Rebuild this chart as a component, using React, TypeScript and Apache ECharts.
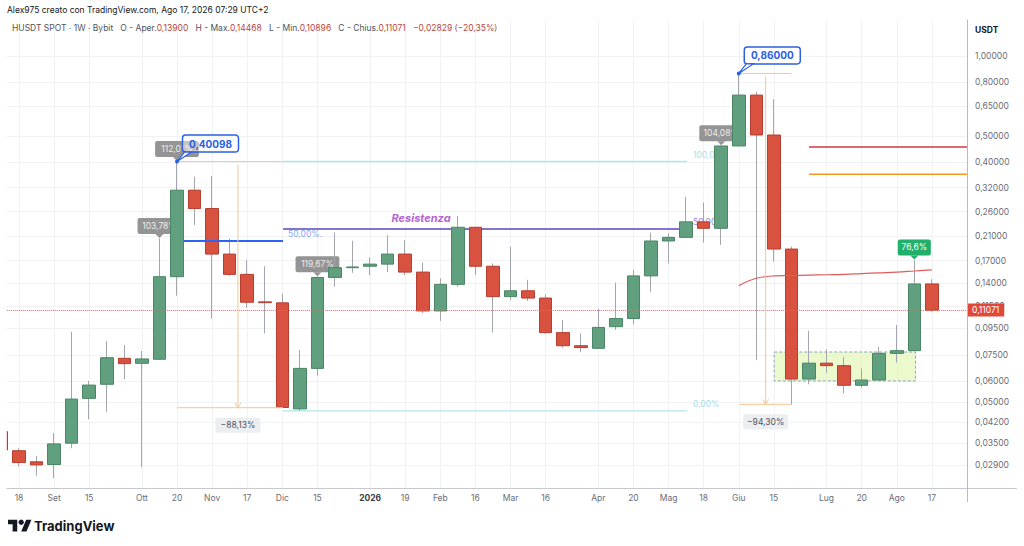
import React, { useEffect, useRef } from 'react';
import * as echarts from 'echarts';

const FONT = 'Inter, "Noto Sans", "DejaVu Sans", sans-serif';

// Weekly candles: index 0 = week of 11 Aug 2025 ... index 53 = week of 17 Aug 2026
const opens = [
  0.0387, 0.0328, 0.0298, 0.0291, 0.035, 0.0516, 0.0583, 0.073, 0.0699, 0.0724,
  0.148, 0.313, 0.267, 0.18, 0.151, 0.119, 0.118, 0.0471, 0.0669, 0.147,
  0.16, 0.162, 0.165, 0.18, 0.154, 0.11, 0.1385, 0.227, 0.162, 0.1245,
  0.131, 0.123, 0.0912, 0.0814, 0.0796, 0.096, 0.103, 0.149, 0.2016, 0.208,
  0.238, 0.225, 0.459, 0.713, 0.5046, 0.188, 0.061, 0.07, 0.0685, 0.0578,
  0.0605, 0.0762, 0.078, 0.139,
];
const highs = [
  0.04, 0.0336, 0.0313, 0.0382, 0.0919, 0.0601, 0.0848, 0.0819, 0.0778, 0.206,
  0.40098, 0.352, 0.354, 0.206, 0.171, 0.162, 0.128, 0.0785, 0.148, 0.217,
  0.202, 0.175, 0.212, 0.203, 0.167, 0.146, 0.25, 0.228, 0.166, 0.192,
  0.144, 0.127, 0.1017, 0.0906, 0.112, 0.1405, 0.157, 0.2166, 0.2155, 0.296,
  0.281, 0.46, 0.86, 0.734, 0.687, 0.192, 0.0925, 0.0789, 0.074, 0.0669,
  0.0807, 0.0974, 0.171, 0.14468,
];
const lows = [
  0.0325, 0.0286, 0.0264, 0.0259, 0.0335, 0.043, 0.046, 0.0609, 0.0284, 0.072,
  0.1255, 0.2315, 0.103, 0.149, 0.113, 0.0906, 0.0476, 0.0464, 0.0628, 0.1357,
  0.153, 0.15, 0.154, 0.15, 0.108, 0.101, 0.1357, 0.15, 0.0912, 0.121,
  0.12, 0.09, 0.08, 0.0769, 0.0795, 0.0933, 0.098, 0.13, 0.166, 0.207,
  0.199, 0.195, 0.459, 0.0719, 0.1685, 0.049, 0.0583, 0.0644, 0.0539, 0.0566,
  0.0603, 0.0703, 0.0775, 0.10896,
];
const closes = [
  0.033, 0.0296, 0.029, 0.0348, 0.0513, 0.0579, 0.0734, 0.0697, 0.0726, 0.148,
  0.313, 0.267, 0.18, 0.151, 0.1186, 0.1182, 0.0477, 0.0669, 0.147, 0.16,
  0.161, 0.165, 0.18, 0.154, 0.11, 0.1385, 0.227, 0.162, 0.1245, 0.131,
  0.123, 0.0912, 0.0814, 0.0801, 0.0954, 0.103, 0.149, 0.2016, 0.208, 0.238,
  0.225, 0.459, 0.713, 0.5046, 0.188, 0.061, 0.07, 0.0685, 0.0578, 0.0605,
  0.0762, 0.078, 0.139, 0.11071,
];

// time axis labels (week index -> text)
const xTickIdx = [1, 3, 5, 8, 10, 12, 14, 16, 18, 21, 23, 25, 27, 29, 31, 34, 36, 38, 40, 42, 44, 47, 49, 51, 53];
const xTickLabels = ['18', 'Set', '15', 'Ott', '20', 'Nov', '17', 'Dic', '15', '2026', '19', 'Feb', '16', 'Mar', '16', 'Apr', '20', 'Mag', '18', 'Giu', '15', 'Lug', '20', 'Ago', '17'];

// price scale labels
const yTickValues = [1, 0.8, 0.65, 0.5, 0.4, 0.32, 0.26, 0.21, 0.17, 0.14, 0.115, 0.095, 0.075, 0.06, 0.05, 0.042, 0.035, 0.029];

// visible range
const X_MIN = 0.305;
const X_MAX = 55;
const P_MIN = 0.02375;
const P_MAX = 1.366;

// anchored average line
const maIdx = [42, 43, 44, 45, 46, 47, 48, 49, 50, 51, 52, 53];
const maVals = [0.137, 0.146, 0.149, 0.1495, 0.15, 0.1505, 0.151, 0.152, 0.153, 0.154, 0.1555, 0.157];

const lastPrice = 0.11071;

// drawings (week index, price, text)
const priceCallouts = [
  { i: 10, p: 0.40098, text: '0,40098' },
  { i: 42, p: 0.86, text: '0,86000' },
];
const grayTags = [
  { i: 9, p: 0.206, text: '103,78%' },
  { i: 10, p: 0.40098, text: '112,01%' },
  { i: 18, p: 0.148, text: '119,67%' },
  { i: 41, p: 0.46, text: '104,08%' },
];
const greenTags = [{ i: 52, p: 0.171, text: '76,6%' }];
const measures = [
  { i0: 10, i1: 16.04, iv: 13.47, pTop: 0.40098, pBot: 0.0476, text: '−88,13%' },
  { i0: 42.06, i1: 45.0, iv: 43.53, pTop: 0.86, pBot: 0.049, text: '−94,30%' },
];
const fibStart = 16.04;
const fibEnd = 39.05;
const fibLevels = [
  { p: 0.401, text: '100,00%', kind: 'edge' },
  { p: 0.2237, text: '50,00%', kind: 'mid' },
  { p: 0.0463, text: '0,00%', kind: 'edge' },
];
const supportLine = { i0: 10.4, i1: 16.04, p: 0.2016 };
const resistLabel = { i: 23.9, p: 0.2237, text: 'Resistenza' };
const targetLines = [
  { i0: 46.0, i1: 55, p: 0.455, kind: 'red' },
  { i0: 46.0, i1: 55, p: 0.359, kind: 'orange' },
];
const accumBox = { i0: 44.02, i1: 52.07, pTop: 0.0771, pBot: 0.06 };

echarts.graphic.registerShape(
  'tvlogo',
  echarts.graphic.extendPath('M14 22H7V11H0V4h14v18zM28 22h-8l7.5-18h8L28 22z', {}) as any
);

export default function App() {
  const ref = useRef<HTMLDivElement>(null);

  useEffect(() => {
    const el = ref.current as HTMLDivElement;
    const chart = echarts.init(el, null, { renderer: 'svg' });
    const L = Math.log;

    const wickData = opens.map((o, i) => [i, L(o), L(closes[i]), L(lows[i]), L(highs[i])]);
    const bodyData = opens.map((o, i) => [
      i,
      L(o),
      L(closes[i]),
      L(Math.min(o, closes[i])),
      L(Math.max(o, closes[i])),
    ]);
    const maData = maIdx.map((i, k) => [i, L(maVals[k])]);
    const fmtPrice = (v: number) => Math.exp(v).toFixed(5).replace('.', ',');
    const xLabel = (v: number) => {
      const k = xTickIdx.indexOf(Math.round(v));
      if (k < 0) return '';
      const t = xTickLabels[k];
      return t === '2026' ? '{b|2026}' : t;
    };

    const GRAY_AXIS = '#6a6d78';
    const GRID_LINE = '#f0f2f6';
    const GRID_LEFT = 6.8;
    const GRID_TOP = 20;
    const GRID_BOTTOM = 58;

    chart.setOption({
      animation: false,
      backgroundColor: '#ffffff',
      grid: { left: GRID_LEFT, right: 57, top: GRID_TOP, bottom: GRID_BOTTOM, containLabel: false, outerBoundsMode: 'none' },
      xAxis: {
        type: 'value',
        min: X_MIN,
        max: X_MAX,
        axisLine: { show: true, onZero: false, lineStyle: { color: '#c7c9cf', width: 1 } },
        axisTick: { show: false, customValues: xTickIdx },
        axisLabel: {
          customValues: xTickIdx,
          formatter: xLabel,
          color: GRAY_AXIS,
          fontSize: 8.5,
          fontFamily: FONT,
          margin: 5,
          rich: { b: { fontWeight: 'bold', color: '#3a3d46', fontSize: 8.5, fontFamily: FONT } },
        },
        splitLine: { show: true, lineStyle: { color: GRID_LINE, width: 1 } },
      },
      yAxis: {
        type: 'value',
        position: 'right',
        min: L(P_MIN),
        max: L(P_MAX),
        axisLine: { show: true, onZero: false, lineStyle: { color: '#b8bac1', width: 1 } },
        axisTick: { show: false, customValues: yTickValues.map(L) },
        axisLabel: {
          customValues: yTickValues.map(L),
          formatter: fmtPrice,
          color: GRAY_AXIS,
          fontSize: 8.5,
          fontFamily: FONT,
          margin: 8,
        },
        splitLine: { show: true, lineStyle: { color: GRID_LINE, width: 1 } },
      },
      series: [
        {
          type: 'candlestick',
          name: 'wick',
          data: wickData,
          barWidth: 1,
          clip: true,
          z: 2,
          itemStyle: {
            color: '#a3a6ad',
            color0: '#a3a6ad',
            borderColor: '#a3a6ad',
            borderColor0: '#a3a6ad',
            borderWidth: 1,
          },
        },
        {
          type: 'candlestick',
          name: 'body',
          data: bodyData,
          barWidth: 13,
          clip: true,
          z: 3,
          itemStyle: {
            color: '#60a07e',
            color0: '#d9513f',
            borderColor: '#4b8565',
            borderColor0: '#b53f30',
            borderWidth: 1,
          },
          markLine: {
            silent: true,
            symbol: 'none',
            data: [{ yAxis: L(lastPrice) }],
            lineStyle: { type: 'dotted', color: '#e8675a', width: 1 },
            label: {
              show: true,
              position: 'end',
              formatter: lastPrice.toFixed(5).replace('.', ','),
              color: '#ffffff',
              backgroundColor: '#e0483a',
              padding: [2, 5, 2, 4],
              fontSize: 8.5,
              fontFamily: FONT,
              distance: 1,
            },
          },
        },
        {
          type: 'line',
          name: 'avg',
          data: maData,
          smooth: 0.4,
          symbol: 'none',
          z: 4,
          lineStyle: { color: '#e25b5b', width: 1.2 },
        },
      ],
    });

    const px = (i: number, p: number) =>
      chart.convertToPixel({ gridIndex: 0 } as any, [i, L(p)]) as number[];

    const g: any[] = [];
    const line = (x1: number, y1: number, x2: number, y2: number, stroke: string, lineWidth: number, z: number, dash?: number[]) =>
      g.push({
        type: 'line',
        z,
        shape: { x1, y1, x2, y2 },
        style: { stroke, lineWidth, lineDash: dash },
      });
    const txt = (x: number, y: number, text: string, style: any, z: number) =>
      g.push({ type: 'text', x, y, z, style: { text, fontFamily: FONT, ...style } });

    // mask the part of the first (partial) candle that lies left of the plot edge
    g.push({
      type: 'rect',
      z: 50,
      shape: { x: 0, y: GRID_TOP, width: GRID_LEFT, height: 546 - GRID_TOP - GRID_BOTTOM },
      style: { fill: '#ffffff' },
    });

    // header
    txt(7, 5, 'Alex975 creato con TradingView.com, Ago 17, 2026 07:29 UTC+2', { fontSize: 8.5, fill: '#131722' }, 60);
    g.push({
      type: 'text',
      x: 12,
      y: 23,
      z: 60,
      style: {
        text:
          '{g|HUSDT SPOT · 1W · Bybit   O - Aper.}{r|0,13900}{g|   H - Max.}{r|0,14468}{g|   L - Min.}{r|0,10896}{g|   C - Chius.}{r|0,11071}{r|   −0,02829 (−20,35%)}',
        rich: {
          g: { fill: '#50535e', fontSize: 8.5, fontFamily: FONT },
          r: { fill: '#b5473f', fontSize: 8.5, fontFamily: FONT },
        },
      },
    });
    txt(975, 25, 'USDT', { fontSize: 8.5, fill: '#131722', fontWeight: 'bold' }, 20);

    // axis line extensions in price-scale area
    line(967, 488.5, 1017, 488.5, '#c7c9cf', 1, 20);
    line(967.5, 488, 967.5, 502, '#b8bac1', 1, 20);

    // accumulation box
    {
      const a = px(accumBox.i0, accumBox.pTop);
      const b = px(accumBox.i1, accumBox.pBot);
      g.push({
        type: 'rect',
        z: 1,
        shape: { x: a[0], y: a[1], width: b[0] - a[0], height: b[1] - a[1] },
        style: { fill: 'rgba(226,246,178,0.65)', stroke: '#8aa2c8', lineWidth: 1, lineDash: [3, 2] },
      });
    }

    // fib levels
    fibLevels.forEach((f) => {
      const a = px(fibStart, f.p);
      const b = px(fibEnd, f.p);
      const mid = f.kind === 'mid';
      line(a[0], a[1], b[0], b[1], mid ? '#5a47bd' : '#b3e6ef', 1.4, 1);
      txt(b[0] + 6, b[1] - 2, f.text, {
        fontSize: 8.5,
        fill: mid ? '#9a86d3' : '#a6e0ea',
        verticalAlign: 'bottom',
      }, 1);
      if (mid) {
        txt(a[0] + 5, a[1] + 5, f.text + '.', { fontSize: 8.5, fill: '#86a8f2', verticalAlign: 'middle' }, 1);
      }
    });

    // resistance label
    {
      const p = px(resistLabel.i, resistLabel.p);
      txt(p[0], p[1] - 11, resistLabel.text, {
        fontSize: 11,
        fontWeight: 'bold',
        fontStyle: 'italic',
        fill: '#b464d2',
        align: 'center',
        verticalAlign: 'middle',
      }, 5);
    }

    // support line (blue)
    {
      const a = px(supportLine.i0, supportLine.p);
      const b = px(supportLine.i1, supportLine.p);
      line(a[0], a[1], b[0], b[1], '#2e62f0', 2, 5);
    }

    // target lines
    targetLines.forEach((t) => {
      const a = px(t.i0, t.p);
      const b = px(t.i1, t.p);
      line(a[0], a[1], b[0], b[1], t.kind === 'red' ? '#cf3a3f' : '#f39a1e', 1.5, 5);
    });

    // measures
    measures.forEach((m) => {
      const tl = px(m.i0, m.pTop);
      const tr = px(m.i1, m.pTop);
      const bl = px(m.i0, m.pBot);
      const br = px(m.i1, m.pBot);
      const vt = px(m.iv, m.pTop);
      const vb = px(m.iv, m.pBot);
      const c = '#f6c792';
      line(tl[0], tl[1], tr[0], tr[1], c, 1, 5);
      line(bl[0], bl[1], br[0], br[1], c, 1, 5);
      line(vt[0], vt[1] + 3, vb[0], vb[1], c, 1, 5);
      g.push({
        type: 'polyline',
        z: 5,
        shape: { points: [[vb[0] - 3, vb[1] - 5], [vb[0], vb[1]], [vb[0] + 3, vb[1] - 5]] },
        style: { stroke: c, lineWidth: 1, fill: 'none' },
      });
      const w = 45;
      g.push({
        type: 'rect',
        z: 5,
        shape: { x: vb[0] - w / 2, y: vb[1] + 10, width: w, height: 15, r: 2 },
        style: { fill: '#eceef1' },
      });
      txt(vb[0], vb[1] + 17.5, m.text, { fontSize: 8.5, fill: '#50535e', align: 'center', verticalAlign: 'middle' }, 6);
    });

    // percent tags (under candles)
    const tag = (t: { i: number; p: number; text: string }, fill: string, color: string, z: number) => {
      const p = px(t.i, t.p);
      const w = t.text.length * 5.4 + 6;
      const h = 16;
      const bottom = p[1] - 4.5;
      g.push({
        type: 'rect',
        z,
        shape: { x: p[0] - w / 2, y: bottom - h, width: w, height: h, r: 2 },
        style: { fill },
      });
      g.push({
        type: 'polygon',
        z,
        shape: { points: [[p[0] - 4, bottom], [p[0] + 4, bottom], [p[0], bottom + 4]] },
        style: { fill },
      });
      txt(p[0], bottom - h / 2, t.text, { fontSize: 8.5, fill: color, align: 'center', verticalAlign: 'middle' }, z);
    };
    grayTags.forEach((t) => tag(t, '#949494', '#ececec', 1));
    greenTags.forEach((t) => tag(t, '#20b06b', '#ffffff', 6));

    // price callouts (blue)
    priceCallouts.forEach((c) => {
      const p = px(c.i, c.p);
      const w = 56;
      const h = 17;
      const left = p[0] + 5.5;
      const bottom = p[1] - 9.5;
      g.push({
        type: 'rect',
        z: 10,
        shape: { x: left, y: bottom - h, width: w, height: h, r: 3 },
        style: { fill: 'rgba(255,255,255,0.45)', stroke: '#2d5fe3', lineWidth: 1.5 },
      });
      g.push({
        type: 'polygon',
        z: 10,
        shape: { points: [[left + 2, bottom], [p[0], p[1]], [left + 9, bottom]] },
        style: { fill: '#ffffff', stroke: '#2d5fe3', lineWidth: 1.2 },
      });
      g.push({ type: 'circle', z: 11, shape: { cx: p[0], cy: p[1], r: 2 }, style: { fill: '#2d5fe3' } });
      txt(left + w / 2, bottom - h / 2, c.text, {
        fontSize: 10,
        fontWeight: 'bold',
        fill: '#2d5fe3',
        align: 'center',
        verticalAlign: 'middle',
      }, 11);
    });

    // TradingView logo
    const s = 0.66;
    g.push({ type: 'tvlogo', x: 8, y: 517, scaleX: s, scaleY: s, z: 20, style: { fill: '#131722' } });
    g.push({ type: 'circle', z: 20, shape: { cx: 8 + 20 * s, cy: 517 + 8 * s, r: 4 * s }, style: { fill: '#131722' } });
    txt(34, 526, 'TradingView', { fontSize: 13, fontWeight: 'bold', fill: '#131722', verticalAlign: 'middle' }, 20);

    chart.setOption({ graphic: g });

    return () => {
      chart.dispose();
    };
  }, []);

  return (
    <div
      ref={ref}
      style={{ position: 'fixed', left: 0, top: 0, width: 1024, height: 546, background: '#ffffff' }}
    />
  );
}
